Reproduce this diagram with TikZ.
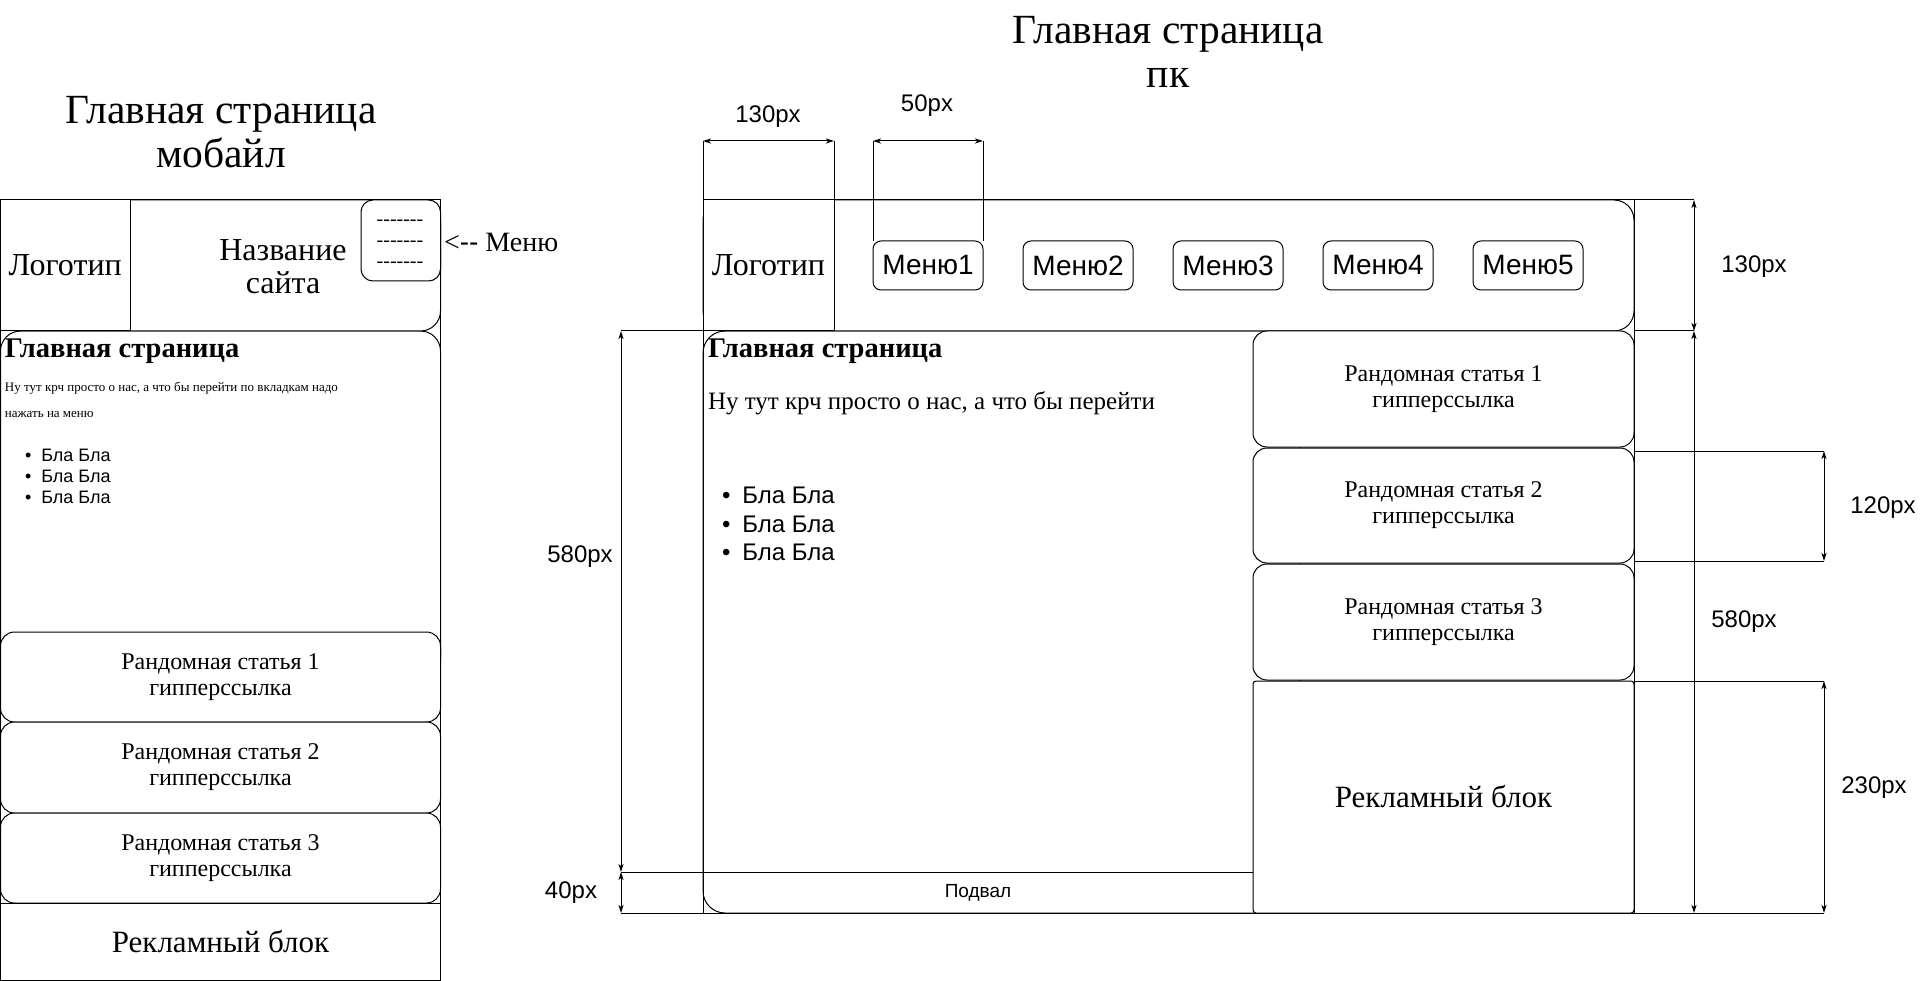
\documentclass[tikz,border=0pt]{standalone}
\usepackage{fontspec}
\setmainfont{Liberation Serif}
\setsansfont{Liberation Sans}
\usetikzlibrary{arrows.meta}
\begin{document}
\begin{tikzpicture}[x=1pt, y=-1pt, line width=1pt,
  frm/.style={draw, line width=1pt, inner sep=0pt, outer sep=0pt},
  blk/.style={frm, fill=white, rounded corners=#1},
  sq/.style={frm, fill=white},
  txt/.style={inner sep=0pt, outer sep=0pt, align=center},
  ltxt/.style={inner sep=0pt, outer sep=0pt, align=left, anchor=west},
  title/.style={txt, font=\fontsize{41.5}{44}\selectfont},
  big/.style={font=\fontsize{32}{33}\selectfont},
  art/.style={font=\fontsize{24}{26}\selectfont, align=center},
  menu/.style={blk=8pt, minimum width=110pt, minimum height=49pt, font=\sffamily\fontsize{28}{30}\selectfont},
  dimarrow/.style={line width=1pt, {Stealth[length=8pt,width=5pt,inset=2pt]}-{Stealth[length=8pt,width=5pt,inset=2pt]}},
  ext/.style={line width=1pt},
  dimlbl/.style={inner sep=0pt, font=\sffamily\fontsize{24}{28}\selectfont},
  bold/.style={ltxt, font=\bfseries\fontsize{28.5}{30}\selectfont}
]
\useasboundingbox (0,0) rectangle (1932,981);

% ================= MOBILE =================
\node[title] (mtitle) at (221,132) {Главная страница\\мобайл};

\node[blk=20pt, minimum width=440pt, minimum height=349pt] (mcontent) at (220.5,505.5) {};
\node[blk=20pt, minimum width=440pt, minimum height=131pt] (mheader) at (220.5,265.5) {};
\node[sq, minimum width=129.5pt, minimum height=131pt, big] (mlogo) at (65.25,265.5) {Логотип};
\node[txt, font=\fontsize{32}{33}\selectfont] (mname) at (283,267) {Название\\сайта};
\node[blk=12pt, minimum width=79.5pt, minimum height=81pt, align=center, font=\fontsize{20}{21}\selectfont] (mmenu) at (400.75,240.5) {};
\node[txt, font=\fontsize{20}{21}\selectfont] (mdash) at (400,244)
  {-{}-{}-{}-{}-{}-{}-\\-{}-{}-{}-{}-{}-{}-\\-{}-{}-{}-{}-{}-{}-};
\node[ltxt, font=\fontsize{28}{30}\selectfont] (mmenulbl) at (444,242) {<{\sffamily -{}-} Меню};

\node[bold] (mhead) at (5,351) {Главная страница};
\node[ltxt, font=\fontsize{13}{26}\selectfont] (mtext) at (5,400) {Ну тут крч просто о нас, а что бы перейти по вкладкам надо\\нажать на меню};
\node[ltxt, font=\sffamily\fontsize{18}{21}\selectfont] (mlist) at (25,476) {•\hspace{10pt}Бла Бла\\•\hspace{10pt}Бла Бла\\•\hspace{10pt}Бла Бла};

\node[blk=14pt, minimum width=440pt, minimum height=90pt, art] (mart1) at (220.5,677) {Рандомная статья 1\\гипперссылка};
\node[blk=14pt, minimum width=440pt, minimum height=91pt, art] (mart2) at (220.5,767.5) {Рандомная статья 2\\гипперссылка};
\node[blk=14pt, minimum width=440pt, minimum height=90pt, art] (mart3) at (220.5,858) {Рандомная статья 3\\гипперссылка};
\node[sq, minimum width=440pt, minimum height=77.5pt, font=\fontsize{31}{34}\selectfont] (mad) at (220.5,941.75) {Рекламный блок};
\node[frm, minimum width=440pt, minimum height=780.5pt] (mframe) at (220.5,590.25) {};

% ================= PC =================
\node[title] (ptitle) at (1168,52) {Главная страница\\пк};

\node[blk=22pt, minimum width=597pt, minimum height=582pt] (pcontent) at (1001.5,622) {};
\node[blk=20pt, minimum width=931pt, minimum height=131pt] (pheader) at (1168.5,265.5) {};
\node[sq, minimum width=131pt, minimum height=131pt, big] (plogo) at (768.5,265.5) {Логотип};
\node[menu] (pm1) at (928,265.5) {Меню1};
\node[menu] (pm2) at (1078,265.5) {Меню2};
\node[menu] (pm3) at (1228,265.5) {Меню3};
\node[menu] (pm4) at (1378,265.5) {Меню4};
\node[menu] (pm5) at (1528,265.5) {Меню5};

\node[bold] (phead) at (708,351) {Главная страница};
\node[ltxt, font=\fontsize{25}{28}\selectfont] (ptext) at (708,403) {Ну тут крч просто о нас, а что бы перейти};
\node[ltxt, font=\sffamily\fontsize{24}{28.5}\selectfont] (plist) at (722,524) {•\hspace{12pt}Бла Бла\\•\hspace{12pt}Бла Бла\\•\hspace{12pt}Бла Бла};

\node[txt, minimum width=550pt, minimum height=41pt, font=\sffamily\fontsize{19}{22}\selectfont] (pfoot) at (978,892.5) {Подвал};

\node[blk=14pt, minimum width=381pt, minimum height=116pt, art] (part1) at (1443.5,389) {Рандомная статья 1\\гипперссылка};
\node[blk=14pt, minimum width=381pt, minimum height=115pt, art] (part2) at (1443.5,505.5) {Рандомная статья 2\\гипперссылка};
\node[blk=14pt, minimum width=381pt, minimum height=116pt, art] (part3) at (1443.5,622) {Рандомная статья 3\\гипперссылка};
\node[blk=3pt, minimum width=381pt, minimum height=232pt, font=\fontsize{31}{34}\selectfont] (pad) at (1443.5,797) {Рекламный блок};
\node[frm, minimum width=931pt, minimum height=713pt] (pframe) at (1168.5,556.5) {};

% ================= DIMENSIONS =================
% 130px top
\coordinate (d1a) at (703,141); \coordinate (d1b) at (834,141);
\draw[ext] (d1a) -- (pframe.north west);
\draw[ext] (d1b) -- (plogo.north east);
\draw[dimarrow] (d1a) -- (d1b);
\node[dimlbl] (l1) at (768,117) {130px};
% 50px
\coordinate (d2a) at (873,141); \coordinate (d2b) at (983,141);
\draw[ext] (d2a) -- (pm1.north west);
\draw[ext] (d2b) -- (pm1.north east);
\draw[dimarrow] (d2a) -- (d2b);
\node[dimlbl] (l2) at (927,106) {50px};
% 130px right
\coordinate (d3a) at (1694,200); \coordinate (d3b) at (1694,331);
\draw[ext] (pframe.north east) -- (d3a);
\draw[ext] (pheader.south east) -- (d3b);
\draw[dimarrow] (d3a) -- (d3b);
\node[dimlbl] (l3) at (1754,267) {130px};
% 580px right
\coordinate (d4b) at (1694,913);
\coordinate (d4e) at (1824,913);
\draw[dimarrow] (d3b) -- (d4b);
\draw[ext] (pframe.south east) -- (d4e);
\node[dimlbl] (l4) at (1744,622) {580px};
% 120px
\coordinate (d5a) at (1824,451); \coordinate (d5b) at (1824,561);
\coordinate (d5s) at (1634,451); \coordinate (d5t) at (1634,561);
\draw[ext] (d5s) -- (d5a);
\draw[ext] (d5t) -- (d5b);
\draw[dimarrow] (d5a) -- (d5b);
\node[dimlbl] (l5) at (1883,508) {120px};
% 230px
\coordinate (d6a) at (1824,681);
\draw[ext] (pad.north east) -- (d6a);
\draw[dimarrow] (d6a) -- (d4e);
\node[dimlbl] (l6) at (1874,788) {230px};
% 580px left
\coordinate (d7a) at (621,331); \coordinate (d7b) at (621,872); \coordinate (d8b) at (621,913);
\coordinate (pcl) at (703,331);
\draw[ext] (d7a) -- (pcl);
\draw[ext] (d7b) -- (pfoot.north east);
\draw[ext] (d8b) -- (pframe.south west);
\draw[dimarrow] (d7a) -- (d7b);
\node[dimlbl] (l7) at (580,557) {580px};
% 40px
\draw[dimarrow] (d7b) -- (d8b);
\node[dimlbl] (l8) at (571,893) {40px};
\end{tikzpicture}
\end{document}
